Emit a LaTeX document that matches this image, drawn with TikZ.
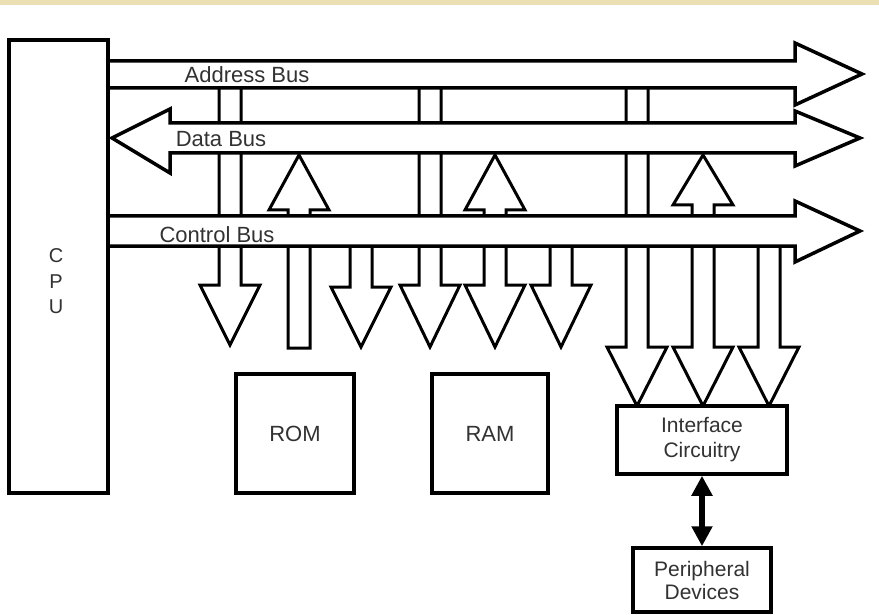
\documentclass[tikz,border=0pt]{standalone}
\usepackage{fontspec}
\setmainfont{Liberation Sans}
\usetikzlibrary{arrows.meta}
\definecolor{band}{RGB}{234,224,180}
\definecolor{txt}{RGB}{50,50,50}
% fat single arrow: centre x, start y, head base y, tip y
\newcommand\FatArr[4]{\draw[fat] (#1-11,#2) -- (#1+11,#2) -- (#1+11,#3) -- (#1+30,#3) -- (#1,#4) -- (#1-30,#3) -- (#1-11,#3) -- cycle;}
% fat double arrow: centre x, up tip y, up base y, down base y, down tip y
\newcommand\FatBiArr[5]{\draw[fat] (#1,#2) -- (#1+30,#3) -- (#1+11,#3) -- (#1+11,#4) -- (#1+30,#4) -- (#1,#5) -- (#1-30,#4) -- (#1-11,#4) -- (#1-11,#3) -- (#1-30,#3) -- cycle;}
\tikzset{
  fat/.style={draw=black, fill=white, line width=3pt, line join=miter},
  bus/.style={draw=black, fill=white, line width=3.5pt, line join=miter},
  box/.style={draw=black, fill=white, line width=3.5pt, inner sep=0pt, font=\fontsize{22}{25}\selectfont, text=txt, align=center},
  lbl/.style={font=\fontsize{22}{26}\selectfont, text=txt, inner sep=0pt},
  dbl/.style={line width=6pt, {Triangle[length=20pt,width=20pt]}-{Triangle[length=20pt,width=20pt]}}
}
\begin{document}
\begin{tikzpicture}[x=1pt,y=-1pt]
\useasboundingbox (0,0) rectangle (879,615);
\fill[white] (0,0) rectangle (879,615);
\fill[band] (0,0) rectangle (879,5);

% vertical fat arrows (drawn first, buses lie on top)
\FatArr{230}{74}{285}{345}      % address -> ROM
\FatArr{299}{348}{210}{155}     % ROM -> data
\FatArr{361}{231}{287}{347}     % control -> ROM
\FatArr{430}{74}{285}{347}      % address -> RAM
\FatBiArr{495}{155}{210}{285}{347} % data <-> RAM
\FatArr{561}{231}{285}{347}     % control -> RAM
\FatArr{637}{74}{347}{406}      % address -> interface
\FatBiArr{703}{155}{205}{347}{406} % data <-> interface
\FatArr{769}{231}{347}{406}     % control -> interface

% buses
\draw[bus] (108,61) -- (795,61) -- (795,43) -- (862,74) -- (795,105) -- (795,88) -- (108,88) -- cycle;
\draw[bus] (112,138) -- (170,109) -- (170,123) -- (795,123) -- (795,111) -- (860,138) -- (795,166) -- (795,153) -- (170,153) -- (170,173) -- cycle;
\draw[bus] (108,216) -- (795,216) -- (795,201) -- (860,231) -- (795,262) -- (795,246) -- (108,246) -- cycle;

\node[lbl, anchor=base] (addrlbl) at (247,83) {Address Bus};
\node[lbl, anchor=base] (datalbl) at (221,147) {Data Bus};
\node[lbl, anchor=base] (ctrllbl) at (217,242) {Control Bus};

% blocks
\node[box, minimum width=99pt, minimum height=453pt] (cpu) at (58.5,266.5) {};
\node[lbl, anchor=base, font=\fontsize{20}{25}\selectfont] (cpuc) at (56,262) {C};
\node[lbl, anchor=base, font=\fontsize{20}{25}\selectfont] (cpup) at (56,288) {P};
\node[lbl, anchor=base, font=\fontsize{20}{25}\selectfont] (cpuu) at (56,313) {U};

\node[box, minimum width=118pt, minimum height=119pt] (rom) at (295,433.5) {ROM};
\node[box, minimum width=116pt, minimum height=119pt] (ram) at (490,433.5) {RAM};
\node[box, minimum width=170pt, minimum height=68pt, font=\fontsize{21}{25}\selectfont] (ifc) at (702,440) {Interface\\Circuitry};
\node[box, minimum width=138pt, minimum height=64pt, font=\fontsize{21}{23}\selectfont] (pd) at (702,580) {Peripheral\\Devices};

\draw[dbl] (ifc.south) -- (pd.north);
\end{tikzpicture}
\end{document}
